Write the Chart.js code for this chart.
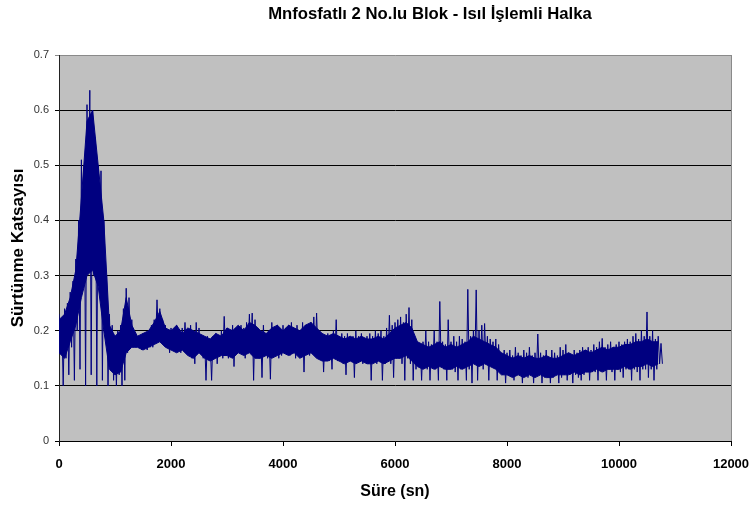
<!DOCTYPE html>
<html>
<head>
<meta charset="utf-8">
<script src="https://cdn.jsdelivr.net/npm/chart.js@4.4.1/dist/chart.umd.min.js"></script>
<style>
  html, body { margin: 0; padding: 0; background: #ffffff; }
  #wrap { width: 755px; height: 509px; }
</style>
</head>
<body>
<div id="wrap"><canvas id="c" width="755" height="509"></canvas></div>
<script>
// Friction coefficient record, sampled every 50 s.
// Each sample holds the upper and lower excursion of the trace in that interval.
const sampleStep = 50;

const upperVals = [
  0.23, 0.22, 0.24, 0.25, 0.27, 0.29, 0.33, 0.40, 0.51, 0.50,
  0.61, 0.636, 0.60, 0.55, 0.50, 0.49, 0.40, 0.30, 0.23,
  0.21, 0.19, 0.20, 0.21, 0.24,
  0.277, 0.26, 0.22, 0.19, 0.19, 0.185, 0.195, 0.19, 0.20, 0.21,
  0.22, 0.256, 0.24, 0.22, 0.21, 0.20, 0.205,
  // 2050 - 2500
  0.20, 0.21, 0.195, 0.205, 0.215, 0.20, 0.21, 0.20, 0.215, 0.205,
  // 2550 - 3000
  0.19, 0.185, 0.19, 0.18, 0.19, 0.195, 0.185, 0.20, 0.226, 0.205,
  // 3050 - 3500
  0.20, 0.21, 0.205, 0.20, 0.21, 0.205, 0.215, 0.23, 0.232, 0.22,
  // 3550 - 4000
  0.205, 0.20, 0.21, 0.195, 0.20, 0.215, 0.205, 0.21, 0.20, 0.21,
  // 4050 - 4500
  0.205, 0.21, 0.215, 0.205, 0.21, 0.20, 0.215, 0.21, 0.205, 0.215,
  // 4550 - 5000
  0.225, 0.232, 0.20, 0.195, 0.19, 0.195, 0.185, 0.20, 0.22, 0.19,
  // 5050 - 5500
  0.195, 0.19, 0.195, 0.185, 0.19, 0.20, 0.19, 0.195, 0.185, 0.19,
  // 5550 - 6000
  0.195, 0.19, 0.20, 0.195, 0.20, 0.19, 0.205, 0.228, 0.21, 0.215,
  // 6050 - 6500
  0.22, 0.225, 0.215, 0.23, 0.242, 0.22, 0.19, 0.18, 0.175, 0.18,
  // 6550 - 7000
  0.20, 0.18, 0.175, 0.20, 0.18, 0.253, 0.18, 0.175, 0.22, 0.18,
  // 7050 - 7500
  0.19, 0.18, 0.19, 0.185, 0.18, 0.275, 0.19, 0.20, 0.274, 0.20,
  // 7550 - 8000
  0.21, 0.213, 0.19, 0.185, 0.18, 0.185, 0.175, 0.16, 0.165, 0.16,
  // 8050 - 8500
  0.165, 0.155, 0.17, 0.16, 0.155, 0.165, 0.16, 0.17, 0.155, 0.16,
  // 8550 - 9000
  0.194, 0.16, 0.155, 0.165, 0.15, 0.165, 0.16, 0.155, 0.17, 0.165,
  // 9050 - 9500
  0.175, 0.16, 0.155, 0.165, 0.16, 0.165, 0.17, 0.165, 0.17, 0.165,
  // 9550 - 10000
  0.175, 0.17, 0.18, 0.186, 0.17, 0.175, 0.18, 0.17, 0.175, 0.18,
  // 10050 - 10500
  0.175, 0.18, 0.185, 0.18, 0.19, 0.195, 0.185, 0.20, 0.19, 0.234,
  // 10550 - 10750
  0.19, 0.20, 0.185, 0.19, 0.177
];

const lowerVals = [
  0.17, 0.10, 0.15, 0.12, 0.17, 0.11, 0.20, 0.13, 0.30, 0.10,
  0.33, 0.12, 0.30, 0.10, 0.28, 0.11, 0.24, 0.10, 0.14,
  0.11, 0.10, 0.12, 0.10, 0.11,
  0.16, 0.17, 0.17, 0.17, 0.17, 0.165, 0.17, 0.165, 0.17, 0.17,
  0.18, 0.19, 0.18, 0.18, 0.17, 0.16, 0.17,
  // 2050 - 2500
  0.17, 0.165, 0.16, 0.17, 0.165, 0.16, 0.15, 0.14, 0.165, 0.16,
  // 2550 - 3000
  0.15, 0.11, 0.155, 0.11, 0.15, 0.14, 0.155, 0.15, 0.16, 0.15,
  // 3050 - 3500
  0.16, 0.135, 0.16, 0.165, 0.16, 0.15, 0.165, 0.16, 0.11, 0.16,
  // 3550 - 4000
  0.15, 0.115, 0.155, 0.15, 0.112, 0.155, 0.16, 0.15, 0.155, 0.16,
  // 4050 - 4500
  0.16, 0.155, 0.16, 0.15, 0.165, 0.155, 0.125, 0.16, 0.155, 0.16,
  // 4550 - 5000
  0.16, 0.155, 0.15, 0.125, 0.15, 0.145, 0.13, 0.15, 0.145, 0.15,
  // 5050 - 5500
  0.14, 0.12, 0.15, 0.145, 0.115, 0.15, 0.145, 0.14, 0.15, 0.14,
  // 5550 - 6000
  0.11, 0.145, 0.14, 0.15, 0.11, 0.14, 0.145, 0.14, 0.115, 0.15,
  // 6050 - 6500
  0.15, 0.14, 0.11, 0.15, 0.14, 0.11, 0.13, 0.135, 0.11, 0.135,
  // 6550 - 7000
  0.13, 0.11, 0.135, 0.13, 0.11, 0.135, 0.13, 0.11, 0.135, 0.13,
  // 7050 - 7500
  0.125, 0.11, 0.13, 0.135, 0.11, 0.13, 0.105, 0.14, 0.11, 0.14,
  // 7550 - 8000
  0.13, 0.14, 0.11, 0.14, 0.135, 0.11, 0.13, 0.12, 0.105, 0.12,
  // 8050 - 8500
  0.125, 0.11, 0.12, 0.125, 0.105, 0.12, 0.115, 0.12, 0.105, 0.12,
  // 8550 - 9000
  0.12, 0.105, 0.115, 0.12, 0.105, 0.115, 0.12, 0.105, 0.115, 0.12,
  // 9050 - 9500
  0.11, 0.12, 0.105, 0.12, 0.115, 0.11, 0.12, 0.125, 0.11, 0.125,
  // 9550 - 10000
  0.125, 0.11, 0.13, 0.125, 0.11, 0.13, 0.125, 0.11, 0.13, 0.125,
  // 10050 - 10500
  0.115, 0.13, 0.13, 0.11, 0.13, 0.125, 0.11, 0.13, 0.13, 0.115,
  // 10550 - 10750
  0.13, 0.11, 0.13, 0.14, 0.14
];

// Dense body of the trace (where the signal spends most of its time), every 100 s.
const bandStep = 100;
const bandTop = [
  0.22, 0.23, 0.26, 0.31, 0.44, 0.58, 0.60, 0.50, 0.40, 0.21,
  0.19, 0.20, 0.26, 0.21, 0.19, 0.195, 0.20, 0.215, 0.235, 0.205,
  0.20, 0.21, 0.195, 0.205, 0.20, 0.195, 0.19, 0.185, 0.195, 0.19,
  0.205, 0.20, 0.21, 0.20, 0.215, 0.21, 0.20, 0.195, 0.205, 0.21,
  0.20, 0.21, 0.205, 0.20, 0.21, 0.215, 0.205, 0.195, 0.19, 0.195,
  0.19, 0.185, 0.19, 0.185, 0.19, 0.185, 0.185, 0.19, 0.185, 0.195,
  0.205, 0.21, 0.215, 0.205, 0.18, 0.175, 0.17, 0.175, 0.18, 0.17,
  0.175, 0.17, 0.175, 0.18, 0.19, 0.185, 0.18, 0.175, 0.17, 0.16,
  0.155, 0.15, 0.155, 0.15, 0.155, 0.15, 0.15, 0.155, 0.15, 0.15,
  0.155, 0.16, 0.155, 0.16, 0.165, 0.16, 0.165, 0.17, 0.165, 0.17,
  0.17, 0.175, 0.175, 0.18, 0.18, 0.185, 0.18, 0.18
];
const bandBottom = [
  0.16, 0.15, 0.18, 0.21, 0.26, 0.30, 0.31, 0.28, 0.20, 0.13,
  0.12, 0.125, 0.16, 0.17, 0.17, 0.165, 0.17, 0.175, 0.18, 0.17,
  0.165, 0.16, 0.165, 0.155, 0.15, 0.16, 0.15, 0.145, 0.15, 0.155,
  0.155, 0.15, 0.16, 0.155, 0.16, 0.15, 0.15, 0.155, 0.15, 0.155,
  0.16, 0.155, 0.16, 0.15, 0.155, 0.16, 0.15, 0.145, 0.145, 0.15,
  0.145, 0.14, 0.145, 0.14, 0.145, 0.14, 0.14, 0.145, 0.14, 0.145,
  0.15, 0.15, 0.155, 0.145, 0.135, 0.13, 0.135, 0.13, 0.135, 0.13,
  0.13, 0.135, 0.13, 0.135, 0.14, 0.135, 0.14, 0.135, 0.13, 0.12,
  0.12, 0.115, 0.12, 0.115, 0.12, 0.115, 0.12, 0.115, 0.115, 0.12,
  0.12, 0.12, 0.125, 0.12, 0.125, 0.125, 0.13, 0.125, 0.13, 0.13,
  0.13, 0.135, 0.13, 0.135, 0.135, 0.14, 0.135, 0.14
];

const xTickStep = 2000;
const yTickStep = 0.1;
const chartTitle = 'Mnfosfatlı 2 No.lu Blok - Isıl İşlemli Halka';

// Interleave the two excursions so the trace swings up and down within each interval.
const tracePoints = [];
upperVals.forEach((hi, i) => {
  const t = i * sampleStep;
  tracePoints.push({ x: t, y: hi });
  tracePoints.push({ x: t + sampleStep / 2, y: lowerVals[i] });
});
const bandTopPoints = bandTop.map((v, i) => ({ x: i * bandStep, y: v }));
const bandBottomPoints = bandBottom.map((v, i) => ({ x: i * bandStep, y: v }));

const fontFamily = '"Liberation Sans", Arial, sans-serif';
const navy = '#000080';

// Grey plot background, right-hand frame line and the heading.
const plotFrame = {
  id: 'plotFrame',
  beforeDraw(chart) {
    const { ctx, chartArea: a } = chart;
    ctx.save();
    ctx.fillStyle = '#c0c0c0';
    ctx.fillRect(a.left, a.top, a.right - a.left, a.bottom - a.top);
    ctx.restore();
  },
  afterDraw(chart) {
    const { ctx, chartArea: a } = chart;
    ctx.save();
    ctx.strokeStyle = '#8a8a8a';
    ctx.lineWidth = 1;
    ctx.beginPath();
    ctx.moveTo(Math.round(a.right) + 0.5, a.top);
    ctx.lineTo(Math.round(a.right) + 0.5, a.bottom);
    ctx.stroke();
    ctx.fillStyle = '#000';
    ctx.font = 'bold 16.7px ' + fontFamily;
    ctx.textAlign = 'center';
    ctx.textBaseline = 'middle';
    ctx.fillText(chartTitle, 430, 14);
    ctx.restore();
  }
};

new Chart(document.getElementById('c'), {
  type: 'line',
  data: {
    datasets: [
      {
        data: tracePoints,
        borderColor: navy,
        borderWidth: 1,
        pointRadius: 0,
        tension: 0,
        fill: false
      },
      {
        data: bandTopPoints,
        borderColor: navy,
        borderWidth: 1,
        backgroundColor: navy,
        pointRadius: 0,
        tension: 0,
        fill: '+1'
      },
      {
        data: bandBottomPoints,
        borderColor: navy,
        borderWidth: 1,
        pointRadius: 0,
        tension: 0,
        fill: false
      }
    ]
  },
  options: {
    responsive: false,
    animation: false,
    events: [],
    layout: { padding: { left: 0, right: 24, top: 55, bottom: 0 } },
    plugins: {
      legend: { display: false },
      tooltip: { enabled: false },
      title: { display: false }
    },
    scales: {
      x: {
        type: 'linear',
        min: 0,
        max: 12000,
        afterFit(scale) {
          scale.height = 68;
          scale.paddingLeft = 0;
          scale.paddingRight = 0;
        },
        ticks: {
          stepSize: xTickStep,
          color: '#000',
          font: { family: fontFamily, size: 13, weight: 'bold' },
          padding: 11,
          maxRotation: 0,
          callback: (v) => String(v)
        },
        grid: { drawOnChartArea: false, drawTicks: true, tickLength: 5, color: '#000' },
        border: { color: '#000', width: 1 },
        title: {
          display: true,
          text: 'Süre (sn)',
          color: '#000',
          font: { family: fontFamily, size: 16, weight: 'bold' },
          padding: { top: 0, bottom: 7.4 }
        }
      },
      y: {
        min: 0,
        max: 0.7,
        afterFit(scale) { scale.width = 59; },
        ticks: {
          stepSize: yTickStep,
          color: '#333',
          font: { family: fontFamily, size: 11 },
          padding: 6
        },
        grid: {
          tickLength: 4,
          color: (ctx) => (ctx.tick && Math.abs(ctx.tick.value - 0.7) < 1e-9) ? '#8a8a8a' : '#000',
          lineWidth: 1
        },
        border: { color: '#222', width: 1 },
        title: {
          display: true,
          text: 'Sürtünme Katsayısı',
          color: '#000',
          font: { family: fontFamily, size: 17, weight: 'bold' },
          padding: { top: 7.8, bottom: 0 }
        }
      }
    }
  },
  plugins: [plotFrame]
});
</script>
</body>
</html>
